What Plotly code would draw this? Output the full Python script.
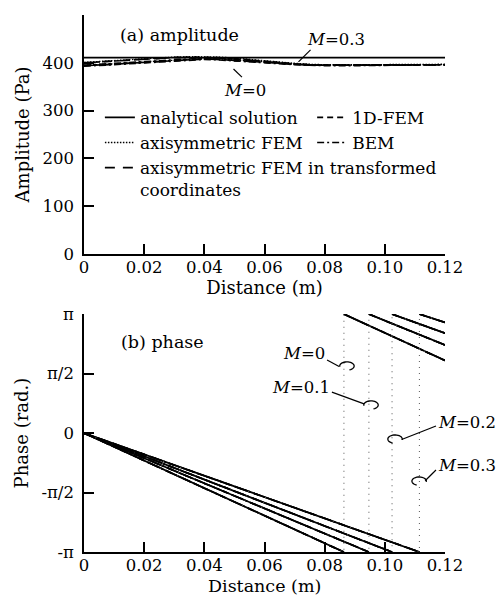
import numpy as np
import plotly.graph_objects as go

PI = np.pi
FONT = "DejaVu Serif"

# ---------------- data: (a) amplitude ----------------
x_amp = [0, 0.005, 0.01, 0.015, 0.02, 0.025, 0.03, 0.035, 0.04, 0.045, 0.05,
         0.055, 0.06, 0.065, 0.07, 0.075, 0.08, 0.09, 0.10, 0.11, 0.12]
x_exact = [0, 0.12]
amp_exact = [411, 411]
# M = 0
amp_fem1d_m0 = [400, 402, 404, 406, 408, 410, 411, 412, 412, 411, 409, 406, 403, 400, 398, 396, 395, 395, 395, 396, 396]
amp_axi_m0 = [401, 403, 405, 407, 409, 411, 412, 413, 413, 412, 410, 407, 404, 401, 399, 397, 396, 396, 396, 396, 397]
amp_bem_m0 = [395, 397, 399, 401, 403, 405, 407, 409, 410, 409, 408, 405, 402, 399, 397, 396, 395, 395, 395, 396, 396]
amp_trans_m0 = [400, 402, 404, 406, 408, 410, 411, 411, 411, 410, 408, 405, 402, 399, 397, 396, 395, 395, 395, 395, 396]
# M = 0.3
amp_fem1d_m03 = [394, 395, 397, 399, 401, 403, 405, 407, 408, 407, 405, 402, 400, 398, 396, 395, 395, 395, 395, 396, 396]
amp_axi_m03 = [395, 396, 398, 400, 402, 404, 406, 408, 409, 408, 406, 403, 401, 399, 397, 396, 395, 395, 396, 396, 396]
amp_bem_m03 = [393, 394, 396, 398, 400, 402, 404, 406, 407, 406, 404, 401, 399, 397, 396, 395, 394, 394, 395, 395, 396]
amp_trans_m03 = [394, 395, 397, 399, 401, 403, 405, 407, 408, 407, 405, 402, 400, 398, 396, 395, 395, 395, 395, 396, 396]

# ---------------- data: (b) phase ----------------
mach = ["0", "0.1", "0.2", "0.3"]
phase_x_wrap = [0.0864, 0.0947, 0.1024, 0.1115]    # where phase reaches -pi
phase_end_over_pi = [0.61, 0.74, 0.84, 0.93]        # phase/pi at x = 0.12
x_end = 0.12

x_ticks = [0, 0.02, 0.04, 0.06, 0.08, 0.10, 0.12]
x_ticktext = ["0", "0.02", "0.04", "0.06", "0.08", "0.10", "0.12"]
amp_ticks = [0, 100, 200, 300, 400, 500]
phase_ticks = [-PI, -PI / 2, 0, PI / 2, PI]
phase_ticktext = ["-π", "-π/2", "0", "π/2", "π"]

methods = [
    ("analytical solution", "solid", 1.8, "legend"),
    ("1D-FEM", "6px,4px", 1.6, "legend2"),
    ("axisymmetric FEM", "1.5px,1.5px", 1.3, "legend"),
    ("BEM", "7px,3px,2px,3px", 1.6, "legend2"),
    ("axisymmetric FEM in transformed<br>coordinates", "10px,8px", 1.6, "legend"),
]

fig = go.Figure()

# amplitude traces
amp_sets = {
    "1D-FEM": [amp_fem1d_m0, amp_fem1d_m03],
    "axisymmetric FEM": [amp_axi_m0, amp_axi_m03],
    "BEM": [amp_bem_m0, amp_bem_m03],
    "axisymmetric FEM in transformed<br>coordinates": [amp_trans_m0, amp_trans_m03],
}
for name, dash, w, leg in methods:
    if name == "analytical solution":
        fig.add_trace(go.Scatter(x=x_exact, y=amp_exact, mode="lines", name=name,
                                 line=dict(color="black", dash=dash, width=w),
                                 legend=leg, xaxis="x", yaxis="y"))
        continue
    for i, ys in enumerate(amp_sets[name]):
        fig.add_trace(go.Scatter(x=x_amp, y=ys, mode="lines", name=name,
                                 line=dict(color="black", dash=dash, width=w),
                                 legend=leg, showlegend=(i == 0),
                                 xaxis="x", yaxis="y"))

# phase traces
for k in range(len(mach)):
    xw = phase_x_wrap[k]
    ye = phase_end_over_pi[k] * PI
    for name, dash, w, leg in methods:
        if name == "axisymmetric FEM":
            xs = [0, xw, xw, x_end]
            ys = [0, -PI, PI, ye]
            col = "#666"
            ww = 1.1
            dd = "1px,5px"
        else:
            xs = [0, xw, None, xw, x_end]
            ys = [0, -PI, None, PI, ye]
            col = "black"
            ww = w
            dd = dash
        fig.add_trace(go.Scatter(x=xs, y=ys, mode="lines", name=name,
                                 line=dict(color=col, dash=dd, width=ww),
                                 showlegend=False, xaxis="x2", yaxis="y2",
                                 connectgaps=False))

axis_common = dict(showline=True, linecolor="black", linewidth=1.6,
                   ticks="inside", ticklen=10, tickwidth=1.5, tickcolor="black",
                   showgrid=False, zeroline=False, automargin=False,
                   tickfont=dict(family=FONT, size=16.5, color="black"))

fig.update_layout(
    width=488, height=590,
    margin=dict(l=76, r=51, t=7, b=46),
    paper_bgcolor="white", plot_bgcolor="white",
    font=dict(family=FONT, size=16.5, color="black"),
    xaxis=dict(domain=[0, 1], anchor="y", range=[0, 0.12],
               tickvals=x_ticks, ticktext=x_ticktext, ticklabelstandoff=-3,
               title=dict(text="Distance (m)", font=dict(family=FONT, size=18), standoff=5),
               **axis_common),
    yaxis=dict(domain=[0.555, 1], anchor="x", range=[0, 500], tickvals=amp_ticks,
               ticklabelstandoff=5,
               title=dict(text="Amplitude (Pa)", font=dict(family=FONT, size=18), standoff=8),
               **axis_common),
    xaxis2=dict(domain=[0, 1], anchor="y2", range=[0, 0.12],
                tickvals=x_ticks, ticktext=x_ticktext, ticklabelstandoff=-3,
                **axis_common),
    yaxis2=dict(domain=[0, 0.443], anchor="x2", range=[-PI, PI],
                tickvals=phase_ticks, ticktext=phase_ticktext,
                ticklabelstandoff=5,
                title=dict(text="Phase (rad.)", font=dict(family=FONT, size=18), standoff=8),
                **axis_common),
    legend=dict(x=0.044, y=0.842, xanchor="left", yanchor="top",
                bgcolor="rgba(0,0,0,0)", borderwidth=0, valign="top",
                font=dict(family=FONT, size=17, color="black"),
                itemwidth=30, tracegroupgap=0),
    legend2=dict(x=0.632, y=0.842, xanchor="left", yanchor="top",
                 bgcolor="rgba(0,0,0,0)", borderwidth=0, valign="top",
                 font=dict(family=FONT, size=17, color="black"),
                 itemwidth=30, tracegroupgap=0),
)

# ---------------- annotations ----------------
def ann(text, x, y, xref, yref, xanchor="left", size=16.5):
    fig.add_annotation(text=text, x=x, y=y, xref=xref, yref=yref, showarrow=False,
                       xanchor=xanchor, yanchor="middle",
                       font=dict(family=FONT, size=size, color="black"))

def seg(x0, y0, x1, y1, xref, yref):
    fig.add_shape(type="line", x0=x0, y0=y0, x1=x1, y1=y1, xref=xref, yref=yref,
                  line=dict(color="black", width=1.2))

def hook(cx, cy, rx, ry, a0, a1, xref, yref):
    th = np.radians(np.linspace(a0, a1, 25))
    pts = [(cx + rx * np.cos(t), cy + ry * np.sin(t)) for t in th]
    path = "M " + " L ".join(f"{px:.5f},{py:.5f}" for px, py in pts)
    fig.add_shape(type="path", path=path, xref=xref, yref=yref,
                  line=dict(color="black", width=1.3))

# bottom x-axis title (placed as paper annotation so it is not pulled up)
fig.add_annotation(text="Distance (m)", x=0.5, y=-0.063, xref="paper", yref="paper",
                   showarrow=False, xanchor="center", yanchor="middle",
                   font=dict(family=FONT, size=17.5, color="black"))

# panel (a)
ann("(a) amplitude", 0.0113, 458, "x", "y", size=17.5)
ann("<i>M</i>=0.3", 0.0735, 448, "x", "y")
seg(0.0753, 427, 0.0713, 402, "x", "y")
ann("<i>M</i>=0", 0.046, 343, "x", "y")
seg(0.0525, 370, 0.0497, 387, "x", "y")

# panel (b)
ann("(b) phase", 0.0117, 2.40, "x2", "y2", size=17.5)
ann("<i>M</i>=0", 0.0808, 2.11, "x2", "y2", xanchor="right")
seg(0.0808, 1.93, 0.0848, 1.76, "x2", "y2")
hook(0.0874, 1.77, 0.0024, 0.11, 190, -70, "x2", "y2")
ann("<i>M</i>=0.1", 0.0824, 1.19, "x2", "y2", xanchor="right")
seg(0.0824, 1.08, 0.0931, 0.77, "x2", "y2")
hook(0.0954, 0.74, 0.0024, 0.11, 190, -70, "x2", "y2")
ann("<i>M</i>=0.2", 0.117, 0.29, "x2", "y2")
seg(0.117, 0.185, 0.1056, -0.17, "x2", "y2")
hook(0.1034, -0.16, 0.0024, 0.11, -10, 250, "x2", "y2")
ann("<i>M</i>=0.3", 0.117, -0.844, "x2", "y2")
seg(0.117, -0.976, 0.1134, -1.26, "x2", "y2")
hook(0.1114, -1.27, 0.0024, 0.11, -10, 250, "x2", "y2")

fig.write_html("out.html")
